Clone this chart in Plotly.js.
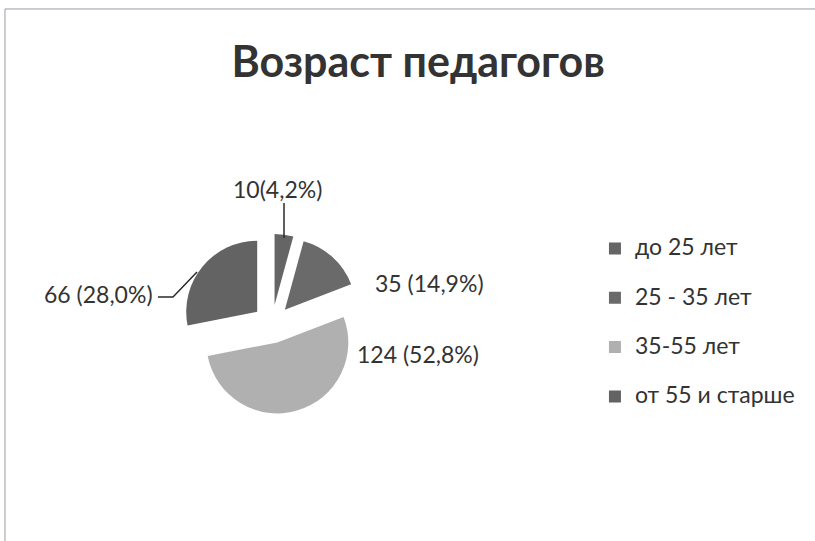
<!DOCTYPE html>
<html>
<head>
<meta charset="utf-8">
<script src="https://cdn.plot.ly/plotly-3.0.1.min.js"></script>
<style>html,body{margin:0;padding:0;background:#fff;}#chart{width:815px;height:541px;}</style>
</head>
<body>
<div id="chart"></div>
<script>
var categories = ["до 25 лет", "25 - 35 лет", "35-55 лет", "от 55 и старше"];
var counts = [10, 35, 124, 66];
var labelTexts = ["10(4,2%)", "35 (14,9%)", "124 (52,8%)", "66 (28,0%)"];
var sliceColors = ["#656565", "#6a6a6a", "#b0b0b0", "#636363"];

// layout: label placement (pixel positions of text centres on the 815x541 page)
var W = 815, H = 541;
var labelPos = [[277, 189], [430, 283], [418, 354], [98, 294]];
function px(x) { return x / W; }
function py(y) { return 1 - y / H; }

var trace = {
  type: "pie",
  labels: categories.map(function (c) {
    return "<span style='font-size:23px'>" + c + "</span><br> ";
  }),
  values: counts,
  textinfo: "none",
  hoverinfo: "label+value",
  sort: false,
  direction: "clockwise",
  rotation: 0,
  pull: [0.27, 0.27, 0.27, 0.27],
  marker: { colors: sliceColors, line: { width: 0 } },
  domain: { x: [0.2231, 0.4444], y: [0.2345, 0.5678] }
};

var annotations = labelTexts.map(function (t, i) {
  return {
    text: t, xref: "paper", yref: "paper",
    x: px(labelPos[i][0]), y: py(labelPos[i][1]),
    xanchor: "center", yanchor: "middle", showarrow: false,
    font: { family: "Lato, 'Open Sans', sans-serif", size: 23, color: "#333" }
  };
});

var leaderLines = [
  [[284, 203], [284, 238]],
  [[158, 297], [173, 297], [197, 272]]
];

var shapes = [{
  type: "rect", xref: "paper", yref: "paper",
  x0: 0.0061, x1: 1.02, y0: -0.02, y1: 0.9834,
  line: { color: "#9a9aa6", width: 1 }
}].concat(leaderLines.map(function (pts) {
  return {
    type: "path", xref: "paper", yref: "paper",
    path: pts.map(function (p, k) { return (k ? "L" : "M") + px(p[0]) + "," + py(p[1]); }).join(" "),
    line: { color: "#2a2a2a", width: 1.5 }
  };
}));

var layout = {
  width: W,
  height: H,
  margin: { l: 0, r: 0, t: 0, b: 0 },
  paper_bgcolor: "#ffffff",
  font: { family: "Lato, 'Open Sans', sans-serif", color: "#333" },
  title: {
    text: "<b>Возраст педагогов</b>",
    font: { family: "Lato, 'Open Sans', sans-serif", size: 43, color: "#333" },
    x: 0.513, xanchor: "center",
    y: 0.886, yanchor: "middle", yref: "container"
  },
  showlegend: true,
  legend: {
    x: 0.730, xanchor: "left",
    y: 0.574, yanchor: "top",
    valign: "top",
    font: { family: "Lato, 'Open Sans', sans-serif", size: 17.8, color: "#333" },
    bgcolor: "rgba(0,0,0,0)"
  },
  annotations: annotations,
  shapes: shapes
};

Plotly.newPlot("chart", [trace], layout, { displayModeBar: false, staticPlot: true });
</script>
</body>
</html>
